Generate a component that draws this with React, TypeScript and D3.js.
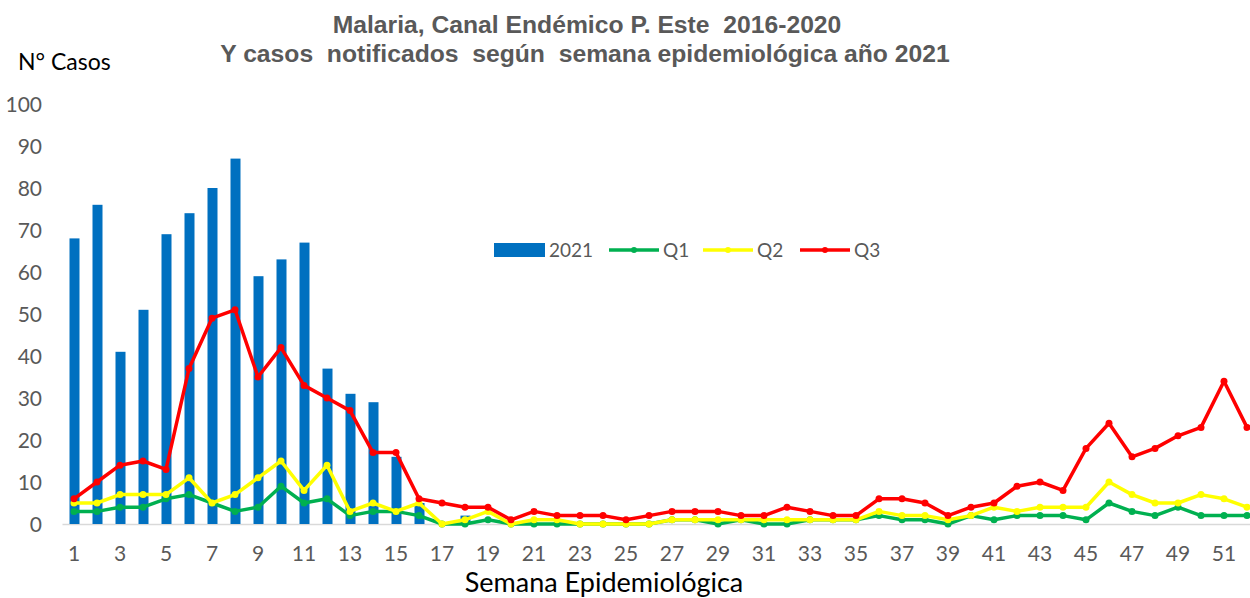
import React, { useRef, useEffect } from "react";
import * as d3 from "d3";

const weeks = d3.range(1, 53);

const casos2021 = [68, 76, 41, 51, 69, 74, 80, 87, 59, 63, 67, 37, 31, 29, 16, 5, 0, 2, 0, 0, 0, 0, 0, 0, 0, 0,
    0, 0, 0, 0, 0, 0, 0, 0, 0, 0, 0, 0, 0, 0, 0, 0, 0, 0, 0, 0, 0, 0, 0, 0, 0, 0];

const q1 = [3, 3, 4, 4, 6, 7, 5, 3, 4, 9, 5, 6, 2, 3, 3, 2, 0, 0, 1, 0, 0, 0, 0, 0, 0, 0,
    1, 1, 0, 1, 0, 0, 1, 1, 1, 2, 1, 1, 0, 2, 1, 2, 2, 2, 1, 5, 3, 2, 4, 2, 2, 2];

const q2 = [5, 5, 7, 7, 7, 11, 5, 7, 11, 15, 8, 14, 3, 5, 3, 5, 0, 1, 3, 0, 1, 1, 0, 0, 0, 0,
    1, 1, 1, 1, 1, 1, 1, 1, 1, 3, 2, 2, 1, 2, 4, 3, 4, 4, 4, 10, 7, 5, 5, 7, 6, 4];

const q3 = [6, 10, 14, 15, 13, 37, 49, 51, 35, 42, 33, 30, 27, 17, 17, 6, 5, 4, 4, 1, 3, 2, 2, 2, 1, 2,
    3, 3, 3, 2, 2, 4, 3, 2, 2, 6, 6, 5, 2, 4, 5, 9, 10, 8, 18, 24, 16, 18, 21, 23, 34, 23];

const yTicks = [0, 10, 20, 30, 40, 50, 60, 70, 80, 90, 100];
const xTicks = weeks.filter((w) => w % 2 === 1);

const series = [
    { name: "Q1", values: q1, color: "#00b050" },
    { name: "Q2", values: q2, color: "#ffff00" },
    { name: "Q3", values: q3, color: "#ff0000" },
];

const App = () => {
    const svgRef = useRef(null);

    useEffect(() => {
        const width = 1250;
        const height = 598;
        const left = 62.5;
        const step = 23;

        const svg = d3.select(svgRef.current).attr("width", width).attr("height", height);
        svg.selectAll("*").remove();

        const x = d3.scaleBand<number>().domain(weeks).range([left, left + step * weeks.length]).padding(0);
        const y = d3.scaleLinear().domain([0, 100]).range([524, 104]);
        const cx = (w: number) => (x(w) as number) + x.bandwidth() / 2;

        const tickFont = "Lato, 'Open Sans', sans-serif";
        const gray = "#595959";

        // title (double spaces kept as in the original)
        const title = svg.append("g")
            .attr("font-family", "'Liberation Sans', Arial, sans-serif")
            .attr("font-weight", "bold")
            .attr("font-size", 24.7)
            .attr("fill", gray)
            .attr("text-anchor", "middle");
        title.append("text")
            .attr("xml:space", "preserve")
            .style("white-space", "pre")
            .attr("x", 587).attr("y", 33)
            .text("Malaria, Canal Endémico P. Este  2016-2020");
        title.append("text")
            .attr("xml:space", "preserve")
            .style("white-space", "pre")
            .attr("x", 585).attr("y", 62)
            .text("Y casos  notificados  según  semana epidemiológica año 2021");

        svg.append("text")
            .attr("x", 18)
            .attr("y", 70)
            .attr("font-family", tickFont)
            .attr("font-size", 23)
            .attr("fill", "#000")
            .text("N° Casos");

        // y tick labels
        svg.append("g")
            .selectAll("text")
            .data(yTicks)
            .enter()
            .append("text")
            .attr("x", 42)
            .attr("y", (d) => y(d))
            .attr("dy", "0.36em")
            .attr("text-anchor", "end")
            .attr("font-family", tickFont)
            .attr("font-size", 21)
            .attr("fill", gray)
            .text((d) => d);

        // x axis line
        svg.append("line")
            .attr("x1", left)
            .attr("x2", left + step * weeks.length)
            .attr("y1", y(0) + 0.5)
            .attr("y2", y(0) + 0.5)
            .attr("stroke", "#d9d9d9")
            .attr("stroke-width", 1.5);

        // x tick labels
        svg.append("g")
            .selectAll("text")
            .data(xTicks)
            .enter()
            .append("text")
            .attr("x", (d) => cx(d))
            .attr("y", 553)
            .attr("dy", "0.36em")
            .attr("text-anchor", "middle")
            .attr("font-family", tickFont)
            .attr("font-size", 21)
            .attr("fill", gray)
            .text((d) => d);

        svg.append("text")
            .attr("x", 604)
            .attr("y", 592)
            .attr("text-anchor", "middle")
            .attr("font-family", tickFont)
            .attr("font-size", 27)
            .attr("fill", "#000")
            .text("Semana Epidemiológica");

        // bars
        const barW = 10;
        svg.append("g")
            .selectAll("rect")
            .data(weeks)
            .enter()
            .append("rect")
            .attr("x", (d) => cx(d) - barW / 2 + 0.5)
            .attr("y", (d, i) => y(casos2021[i]))
            .attr("width", barW)
            .attr("height", (d, i) => y(0) - y(casos2021[i]))
            .attr("fill", "#0070c0");

        // lines
        const line = d3.line<number>()
            .x((d, i) => cx(weeks[i]))
            .y((d) => y(d));

        series.forEach((s) => {
            const g = svg.append("g");
            g.append("path")
                .attr("d", line(s.values))
                .attr("fill", "none")
                .attr("stroke", s.color)
                .attr("stroke-width", 3.5)
                .attr("stroke-linejoin", "round");
            g.selectAll("circle")
                .data(s.values)
                .enter()
                .append("circle")
                .attr("cx", (d, i) => cx(weeks[i]))
                .attr("cy", (d) => y(d))
                .attr("r", 3.5)
                .attr("fill", s.color);
        });

        // legend
        const legend = svg.append("g")
            .attr("font-family", tickFont)
            .attr("font-size", 19)
            .attr("fill", gray);
        legend.append("rect")
            .attr("x", 494)
            .attr("y", 243)
            .attr("width", 51)
            .attr("height", 14)
            .attr("fill", "#0070c0");
        legend.append("text").attr("x", 549).attr("y", 250).attr("dy", "0.36em").text("2021");
        const legendX = [609, 703, 800];
        series.forEach((s, i) => {
            const lx = legendX[i];
            legend.append("line")
                .attr("x1", lx)
                .attr("x2", lx + 50)
                .attr("y1", 250)
                .attr("y2", 250)
                .attr("stroke", s.color)
                .attr("stroke-width", 3.5);
            legend.append("circle")
                .attr("cx", lx + 25)
                .attr("cy", 250)
                .attr("r", 3)
                .attr("fill", s.color);
            legend.append("text").attr("x", lx + 54).attr("y", 250).attr("dy", "0.36em").text(s.name);
        });
    }, []);

    return (
        <div style={{ position: "absolute", left: 0, top: 0 }}>
            <svg ref={svgRef}></svg>
        </div>
    );
};

export default App;
